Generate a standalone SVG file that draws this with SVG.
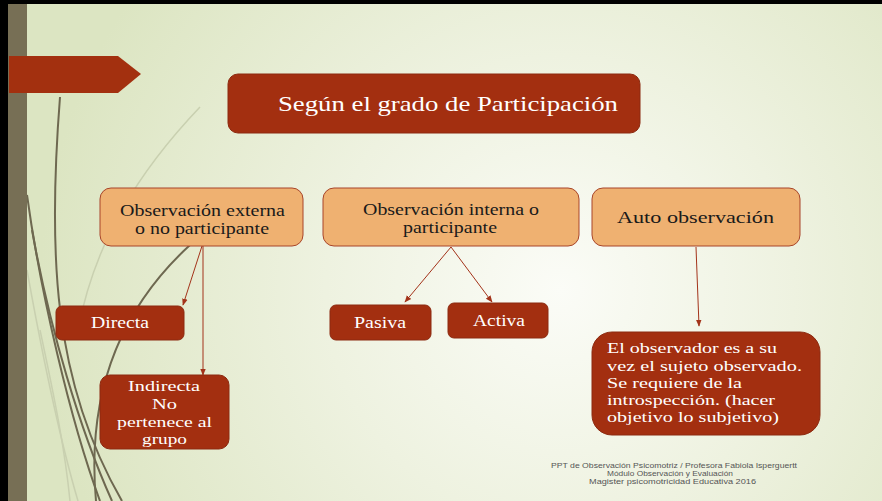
<svg xmlns="http://www.w3.org/2000/svg" width="882" height="501" viewBox="0 0 882 501">
<defs>
  <radialGradient id="bg" cx="560" cy="290" r="520" gradientUnits="userSpaceOnUse">
    <stop offset="0" stop-color="#fbfcf7"/>
    <stop offset="0.45" stop-color="#eef2e0"/>
    <stop offset="1" stop-color="#dce5c2"/>
  </radialGradient>
  <marker id="arr" viewBox="0 0 10 10" refX="9" refY="5" markerWidth="7" markerHeight="7" orient="auto" markerUnits="userSpaceOnUse">
    <path d="M0,1 L10,5 L0,9 z" fill="#a3331a"/>
  </marker>
  <style>
    .orange{fill:#efb171;stroke:#a8452a;stroke-width:1}
    .dark{fill:#a32f10;stroke:#8c2a10;stroke-width:1}
    .tb{font-family:'Liberation Serif','DejaVu Serif',serif;font-size:17px;fill:#1a1a1a}
    .tw{font-family:'Liberation Serif','DejaVu Serif',serif;font-size:17px;fill:#ffffff}
    .tm{font-size:15.5px}
    .foot{font-family:'Liberation Sans',sans-serif;font-size:7px;fill:#555555}
    .conn{stroke:#a3331a;stroke-width:1;fill:none;marker-end:url(#arr)}
    .wd{stroke:#6e6850;fill:none;stroke-width:2}
    .wl{stroke:#c9d0b0;fill:none;stroke-width:1.5}
  </style>
</defs>
<rect width="882" height="501" fill="url(#bg)"/>
<g id="decor">
  <path class="wl" d="M200 107 C140 170 95 240 78 330"/>
  <path class="wl" d="M27 270 C45 370 60 440 78 501"/>
  <path class="wl" d="M40 330 C55 400 65 450 70 501"/>
  <path class="wd" d="M60 97 C48 250 52 380 122 501" stroke-width="1.5"/>
  <path class="wd" d="M27 195 C40 290 70 420 100 501"/>
  <path class="wd" d="M32 230 C50 330 80 430 112 501"/>
  <path class="wd" d="M190 245 C130 300 85 380 96 501" stroke-width="1.5"/>
</g>
<rect x="0" y="0" width="8" height="501" fill="#000"/>
<rect x="0" y="0" width="882" height="4" fill="#000"/>
<rect x="8" y="4" width="19" height="497" fill="#776f55"/>
<polygon points="9,56 118,56 141,74 118,93 9,93" fill="#a3300f"/>

<g id="connectors">
  <line class="conn" x1="202" y1="246" x2="183" y2="305"/>
  <line class="conn" x1="203" y1="246" x2="203" y2="375"/>
  <line class="conn" x1="451" y1="247" x2="405" y2="302"/>
  <line class="conn" x1="451" y1="247" x2="492" y2="302"/>
  <line class="conn" x1="696" y1="247" x2="699" y2="326"/>
</g>

<g id="title">
  <rect x="228" y="74" width="412" height="59" rx="10" class="dark"/>
  <text x="278" y="111" class="tw" style="font-size:21px" textLength="340" lengthAdjust="spacingAndGlyphs">Según el grado de Participación</text>
</g>
<g id="externa">
  <rect x="100" y="188" width="203" height="58" rx="11" class="orange"/>
  <text x="120" y="216" class="tb" textLength="165" lengthAdjust="spacingAndGlyphs">Observación externa</text>
  <text x="135" y="234" class="tb" textLength="134" lengthAdjust="spacingAndGlyphs">o no participante</text>
</g>
<g id="interna">
  <rect x="323" y="188" width="256" height="58" rx="11" class="orange"/>
  <text x="363" y="215" class="tb" textLength="176" lengthAdjust="spacingAndGlyphs">Observación interna o</text>
  <text x="403" y="233" class="tb" textLength="94" lengthAdjust="spacingAndGlyphs">participante</text>
</g>
<g id="auto">
  <rect x="592" y="188" width="208" height="58" rx="11" class="orange"/>
  <text x="617" y="223" class="tb" textLength="157" lengthAdjust="spacingAndGlyphs">Auto observación</text>
</g>
<g id="directa">
  <rect x="56" y="306" width="128" height="34" rx="6" class="dark"/>
  <text x="91" y="328" class="tw" textLength="58" lengthAdjust="spacingAndGlyphs">Directa</text>
</g>
<g id="indirecta">
  <rect x="100" y="375" width="129" height="74" rx="10" class="dark"/>
  <text x="128" y="391" class="tw tm" textLength="72" lengthAdjust="spacingAndGlyphs">Indirecta</text>
  <text x="152" y="409" class="tw tm" textLength="25" lengthAdjust="spacingAndGlyphs">No</text>
  <text x="117" y="427" class="tw tm" textLength="95" lengthAdjust="spacingAndGlyphs">pertenece al</text>
  <text x="142" y="444" class="tw tm" textLength="45" lengthAdjust="spacingAndGlyphs">grupo</text>
</g>
<g id="pasiva">
  <rect x="330" y="305" width="101" height="35" rx="6" class="dark"/>
  <text x="354" y="328" class="tw" textLength="52" lengthAdjust="spacingAndGlyphs">Pasiva</text>
</g>
<g id="activa">
  <rect x="448" y="303" width="100" height="35" rx="6" class="dark"/>
  <text x="473" y="326" class="tw" textLength="52" lengthAdjust="spacingAndGlyphs">Activa</text>
</g>
<g id="autodesc">
  <rect x="592" y="332" width="228" height="103" rx="20" class="dark"/>
  <text x="607" y="353" class="tw tm" textLength="170" lengthAdjust="spacingAndGlyphs">El observador es a su</text>
  <text x="607" y="371" class="tw tm" textLength="195" lengthAdjust="spacingAndGlyphs">vez el sujeto observado.</text>
  <text x="607" y="388" class="tw tm" textLength="135" lengthAdjust="spacingAndGlyphs">Se requiere de la</text>
  <text x="607" y="405" class="tw tm" textLength="168" lengthAdjust="spacingAndGlyphs">introspección. (hacer</text>
  <text x="607" y="422" class="tw tm" textLength="172" lengthAdjust="spacingAndGlyphs">objetivo lo subjetivo)</text>
</g>
<g id="footer">
  <text x="551" y="468" class="foot" textLength="246" lengthAdjust="spacingAndGlyphs">PPT de Observación Psicomotriz / Profesora Fabiola Isperguertt</text>
  <text x="607" y="476" class="foot" textLength="126" lengthAdjust="spacingAndGlyphs">Módulo Observación y Evaluación</text>
  <text x="589" y="484" class="foot" textLength="167" lengthAdjust="spacingAndGlyphs">Magister psicomotricidad Educativa  2016</text>
</g>
</svg>
